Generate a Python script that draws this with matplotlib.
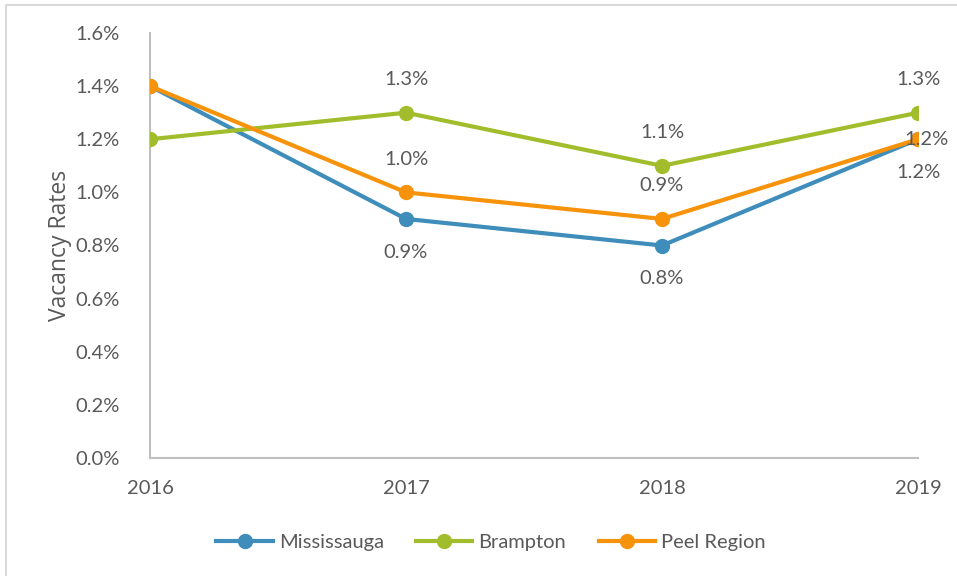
import matplotlib.pyplot as plt
from matplotlib.patches import Rectangle
from matplotlib.ticker import FuncFormatter

years = ["2016", "2017", "2018", "2019"]
mississauga = [1.4, 0.9, 0.8, 1.2]
brampton = [1.2, 1.3, 1.1, 1.3]
peel = [1.4, 1.0, 0.9, 1.2]

blue = "#3F8DBA"
green = "#A2BD2B"
orange = "#F7930B"
grey = "#595959"
fs = 14.5

plt.rcParams["font.family"] = ["Lato", "DejaVu Sans"]

fig = plt.figure(figsize=(9.57, 5.76), dpi=100)
ax = fig.add_axes([150 / 957, 118 / 576, 768 / 957, 425 / 576])

x = range(len(years))
ax.plot(x, mississauga, color=blue, lw=3, marker="o", ms=10, label="Mississauga", zorder=3)
ax.plot(x, brampton, color=green, lw=3, marker="o", ms=10, label="Brampton", zorder=3)
ax.plot(x, peel, color=orange, lw=3, marker="o", ms=10, label="Peel Region", zorder=4)

# data labels (none for 2016)
for i in range(1, 4):
    ax.annotate(f"{mississauga[i]:.1f}%", (i, mississauga[i]), xytext=(0, -24),
                textcoords="offset points", ha="center", va="center", fontsize=fs, color=grey)
    ax.annotate(f"{brampton[i]:.1f}%", (i, brampton[i]), xytext=(0, 24),
                textcoords="offset points", ha="center", va="center", fontsize=fs, color=grey)
    if i < 3:
        ax.annotate(f"{peel[i]:.1f}%", (i, peel[i]), xytext=(0, 24),
                    textcoords="offset points", ha="center", va="center", fontsize=fs, color=grey)
    else:
        ax.annotate(f"{peel[i]:.1f}%", (i, peel[i]), xytext=(6, 0),
                    textcoords="offset points", ha="center", va="center", fontsize=fs, color=grey,
                    zorder=5)

ax.set_xlim(0, 3)
ax.set_ylim(0, 1.6)
ax.set_yticks([0, 0.2, 0.4, 0.6, 0.8, 1.0, 1.2, 1.4, 1.6])
ax.yaxis.set_major_formatter(FuncFormatter(lambda v, p: f"{v:.1f}%"))
ax.set_xticks(list(x))
ax.set_xticklabels(years)
ax.tick_params(length=0, labelsize=fs, colors=grey)
ax.tick_params(axis="x", pad=16)
ax.tick_params(axis="y", pad=22)
for side in ["top", "right"]:
    ax.spines[side].set_visible(False)
for side in ["left", "bottom"]:
    ax.spines[side].set_color("#BFBFBF")
    ax.spines[side].set_linewidth(1.5)
ax.spines["left"].set_zorder(1)
ax.set_ylabel("Vacancy Rates", fontsize=16.5, color=grey, family=["Open Sans", "DejaVu Sans"])
ax.yaxis.set_label_coords(-78 / 768, 0.5)

ax.legend(loc="center", bbox_to_anchor=(491 / 957, 34 / 576), bbox_transform=fig.transFigure,
          ncol=3, frameon=False, fontsize=fs, labelcolor=grey, handlelength=2.8,
          columnspacing=1.6, handletextpad=0.3)

fig.patches.append(Rectangle((6 / 957, -0.1), 1.1, (576 - 5) / 576 + 0.1, transform=fig.transFigure,
                             fill=False, edgecolor="#D9D9D9", lw=1.5))

fig.savefig("out.png", dpi=100)
